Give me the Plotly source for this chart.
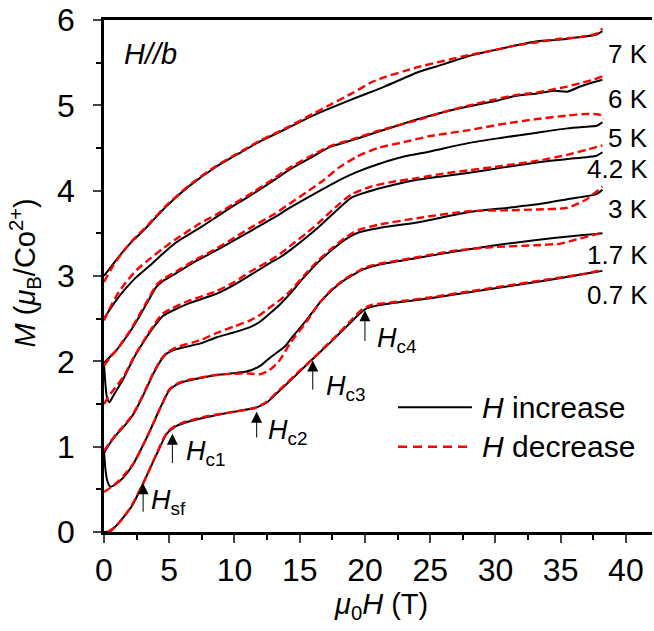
import plotly.graph_objects as go

# ---------------- data ----------------
temps = ["0.7 K", "1.7 K", "3 K", "4.2 K", "5 K", "6 K", "7 K"]

h07_up = [0, 0.5, 1.2, 2.2, 3.0, 4.0, 4.8, 5.4, 6.2, 8.0, 10.0, 11.7, 12.5, 13.2, 13.9, 15.0, 15.8, 17.0, 18.0, 19.0, 19.6, 20.0, 20.8, 22.0, 25.0, 28.0, 31.0, 34.0, 37.0, 38.2]
m07_up = [0, 0.01, 0.12, 0.32, 0.57, 0.90, 1.15, 1.23, 1.28, 1.35, 1.41, 1.46, 1.52, 1.62, 1.72, 1.88, 2.00, 2.17, 2.32, 2.47, 2.56, 2.61, 2.65, 2.68, 2.74, 2.81, 2.88, 2.95, 3.03, 3.06]
h07_dn = [0.3, 1.0, 2.0, 3.0, 4.0, 4.8, 5.4, 6.2, 8.0, 10.0, 11.7, 12.5, 13.2, 13.9, 15.0, 16.0, 17.0, 18.0, 19.0, 19.8, 20.5, 22.0, 25.0, 28.0, 31.0, 34.0, 37.0, 38.1]
m07_dn = [0.0, 0.08, 0.28, 0.57, 0.91, 1.16, 1.24, 1.29, 1.36, 1.41, 1.46, 1.53, 1.63, 1.73, 1.89, 2.03, 2.18, 2.33, 2.49, 2.61, 2.66, 2.69, 2.75, 2.82, 2.89, 2.96, 3.03, 3.07]

h17_up = [0, 0.1, 0.25, 0.5, 0.9, 1.5, 2.25, 3.0, 3.5, 4.3, 5.0, 5.5, 6.1, 8.6, 10.9, 12.0, 12.7, 13.9, 14.3, 15.5, 16.6, 17.5, 18.5, 19.4, 19.9, 21.0, 24.0, 27.0, 30.0, 33.0, 36.0, 37.5, 38.2]
m17_up = [0.95, 0.75, 0.60, 0.53, 0.56, 0.64, 0.80, 1.02, 1.18, 1.45, 1.66, 1.72, 1.76, 1.84, 1.88, 1.95, 2.04, 2.18, 2.26, 2.48, 2.70, 2.84, 2.96, 3.04, 3.08, 3.13, 3.21, 3.29, 3.36, 3.42, 3.47, 3.49, 3.50]
h17_dn = [0, 0.5, 1.0, 1.5, 2.25, 3.0, 3.5, 4.3, 5.0, 5.5, 6.1, 8.6, 10.9, 12.0, 12.7, 13.4, 13.9, 14.3, 15.5, 16.6, 17.5, 18.5, 19.4, 20.0, 21.0, 24.0, 27.0, 30.0, 33.0, 35.0, 36.5, 37.5, 38.2]
m17_dn = [0.47, 0.52, 0.58, 0.66, 0.80, 1.02, 1.18, 1.45, 1.67, 1.73, 1.77, 1.84, 1.86, 1.85, 1.90, 2.00, 2.12, 2.22, 2.46, 2.70, 2.85, 2.97, 3.05, 3.10, 3.14, 3.22, 3.30, 3.34, 3.36, 3.38, 3.44, 3.48, 3.51]

h3_up = [0, 0.5, 1.0, 1.6, 2.25, 3.0, 3.8, 4.4, 4.8, 5.5, 7.4, 8.6, 10.0, 11.2, 12.0, 12.7, 13.5, 14.25, 15.3, 16.4, 17.5, 18.5, 19.5, 21.0, 24.1, 28.0, 31.0, 33.2, 35.5, 37.75, 38.2]
m3_up = [0.93, 1.05, 1.15, 1.25, 1.38, 1.60, 1.86, 2.02, 2.09, 2.14, 2.21, 2.28, 2.34, 2.40, 2.47, 2.56, 2.67, 2.79, 2.98, 3.16, 3.31, 3.43, 3.51, 3.56, 3.63, 3.75, 3.80, 3.84, 3.90, 3.96, 4.01]
h3_dn = [0, 0.5, 1.0, 1.6, 2.25, 3.0, 3.8, 4.4, 4.8, 5.5, 7.4, 8.6, 10.0, 11.2, 12.0, 12.7, 13.5, 14.25, 15.3, 16.4, 17.5, 18.5, 19.5, 21.0, 24.1, 28.0, 31.0, 33.2, 35.5, 37.0, 38.2]
m3_dn = [0.95, 1.06, 1.16, 1.26, 1.39, 1.61, 1.87, 2.03, 2.10, 2.16, 2.25, 2.33, 2.41, 2.48, 2.55, 2.63, 2.72, 2.82, 3.00, 3.18, 3.33, 3.45, 3.54, 3.60, 3.68, 3.76, 3.77, 3.78, 3.80, 3.90, 4.05]

h42_up = [0, 0.1, 0.2, 0.4, 0.8, 1.5, 2.25, 3.0, 3.8, 4.5, 5.2, 6.5, 8.6, 10.0, 11.2, 12.7, 13.5, 14.25, 15.5, 16.5, 17.7, 19.0, 20.5, 22.0, 24.1, 26.0, 28.0, 30.5, 33.2, 35.5, 37.75, 38.2]
m42_up = [1.97, 1.75, 1.60, 1.52, 1.62, 1.80, 2.03, 2.22, 2.40, 2.53, 2.59, 2.68, 2.79, 2.90, 3.01, 3.15, 3.22, 3.30, 3.45, 3.58, 3.75, 3.92, 4.00, 4.06, 4.13, 4.17, 4.21, 4.27, 4.33, 4.37, 4.41, 4.45]
h42_dn = [0, 0.5, 1.0, 1.5, 2.25, 3.0, 3.8, 4.5, 5.2, 6.5, 8.6, 10.0, 11.2, 12.7, 13.5, 14.25, 15.5, 16.5, 17.7, 19.0, 20.5, 22.0, 24.1, 26.0, 28.0, 30.5, 33.2, 35.5, 37.0, 38.2]
m42_dn = [1.50, 1.62, 1.72, 1.82, 2.04, 2.23, 2.42, 2.56, 2.62, 2.71, 2.82, 2.93, 3.05, 3.18, 3.26, 3.35, 3.50, 3.63, 3.80, 3.96, 4.05, 4.10, 4.15, 4.20, 4.24, 4.29, 4.35, 4.42, 4.48, 4.53]

h5_up = [0, 0.5, 1.0, 2.0, 2.8, 3.5, 4.0, 4.5, 5.5, 7.0, 8.6, 10.0, 11.5, 13.0, 14.25, 15.5, 16.8, 18.0, 19.4, 21.0, 23.0, 25.0, 28.0, 30.5, 33.2, 35.5, 37.0, 37.75, 38.2]
m5_up = [1.98, 2.06, 2.14, 2.35, 2.55, 2.74, 2.87, 2.94, 3.03, 3.17, 3.30, 3.42, 3.55, 3.68, 3.80, 3.91, 4.02, 4.12, 4.22, 4.31, 4.40, 4.46, 4.56, 4.62, 4.68, 4.73, 4.75, 4.76, 4.80]
h5_dn = [0, 0.5, 1.0, 2.0, 2.8, 3.5, 4.0, 4.5, 5.5, 7.0, 8.6, 10.0, 11.5, 13.0, 14.25, 15.5, 16.8, 18.0, 19.4, 21.0, 23.0, 25.0, 28.0, 30.5, 33.2, 35.5, 37.0, 38.0, 38.3]
m5_dn = [1.95, 2.05, 2.14, 2.36, 2.57, 2.76, 2.89, 2.96, 3.05, 3.19, 3.32, 3.45, 3.59, 3.72, 3.85, 3.98, 4.12, 4.27, 4.40, 4.50, 4.57, 4.64, 4.71, 4.78, 4.84, 4.88, 4.90, 4.89, 4.84]

h6_up = [0, 0.5, 1.0, 1.7, 2.5, 3.5, 4.5, 5.5, 7.4, 8.6, 10.0, 11.5, 13.0, 14.25, 16.0, 17.3, 19.0, 21.0, 24.1, 26.0, 28.0, 30.0, 31.5, 33.2, 34.5, 35.5, 36.5, 37.5, 38.2]
m6_up = [2.50, 2.62, 2.73, 2.86, 2.99, 3.12, 3.26, 3.39, 3.57, 3.69, 3.83, 3.97, 4.12, 4.25, 4.40, 4.51, 4.59, 4.69, 4.84, 4.92, 4.99, 5.05, 5.11, 5.14, 5.17, 5.16, 5.22, 5.27, 5.30]
h6_dn = [0, 0.5, 1.0, 1.7, 2.5, 3.5, 4.5, 5.5, 7.4, 8.6, 10.0, 11.5, 13.0, 14.25, 16.0, 17.3, 19.0, 21.0, 24.1, 26.0, 28.0, 30.0, 31.5, 33.2, 34.5, 35.5, 36.5, 37.5, 38.2]
m6_dn = [2.48, 2.64, 2.78, 2.93, 3.07, 3.20, 3.32, 3.43, 3.62, 3.72, 3.85, 3.99, 4.14, 4.27, 4.42, 4.52, 4.60, 4.70, 4.83, 4.92, 5.00, 5.07, 5.12, 5.15, 5.19, 5.22, 5.26, 5.30, 5.34]

h7_up = [0, 0.5, 1.0, 1.7, 2.25, 3.0, 3.5, 4.8, 6.5, 8.6, 10.5, 12.0, 13.9, 16.0, 19.0, 21.5, 24.1, 26.0, 28.0, 30.0, 31.5, 33.2, 35.0, 36.5, 37.75, 38.2]
m7_up = [3.00, 3.10, 3.20, 3.33, 3.42, 3.53, 3.61, 3.82, 4.05, 4.28, 4.45, 4.58, 4.72, 4.88, 5.07, 5.22, 5.39, 5.48, 5.58, 5.65, 5.70, 5.75, 5.77, 5.80, 5.83, 5.87]
h7_dn = [0, 0.5, 1.0, 1.7, 2.25, 3.0, 3.5, 4.8, 6.5, 8.6, 10.5, 12.0, 13.9, 16.0, 17.5, 19.0, 20.5, 21.5, 23.0, 24.1, 26.0, 28.0, 30.0, 31.5, 33.2, 35.0, 36.5, 37.75, 38.2]
m7_dn = [2.93, 3.07, 3.19, 3.33, 3.43, 3.54, 3.62, 3.83, 4.06, 4.29, 4.46, 4.59, 4.73, 4.90, 5.02, 5.14, 5.27, 5.33, 5.40, 5.45, 5.52, 5.59, 5.65, 5.70, 5.74, 5.78, 5.80, 5.84, 5.90]

up_H = [h07_up, h17_up, h3_up, h42_up, h5_up, h6_up, h7_up]
up_M = [m07_up, m17_up, m3_up, m42_up, m5_up, m6_up, m7_up]
dn_H = [h07_dn, h17_dn, h3_dn, h42_dn, h5_dn, h6_dn, h7_dn]
dn_M = [m07_dn, m17_dn, m3_dn, m42_dn, m5_dn, m6_dn, m7_dn]

# temperature label positions (field, moment)
label_x = 41.85
label_y = [2.78, 3.25, 3.79, 4.25, 4.62, 5.08, 5.60]

# critical-field arrows
crit_names = ["sf", "c1", "c2", "c3", "c4"]
crit_H = [3.0, 5.24, 11.7, 16.0, 20.0]
crit_tip = [0.57, 1.15, 1.41, 2.01, 2.60]
crit_tail = [0.22, 0.79, 1.09, 1.65, 2.22]
crit_lab_x = [3.45, 6.15, 12.45, 16.85, 20.75]
crit_lab_y = [0.57, 1.15, 1.40, 1.91, 2.47]

x_ticks = [0, 5, 10, 15, 20, 25, 30, 35, 40]
y_ticks = [0, 1, 2, 3, 4, 5, 6]

FONT = "Liberation Sans, Arial, sans-serif"

fig = go.Figure()
for i, t in enumerate(temps):
    fig.add_trace(go.Scatter(x=up_H[i], y=up_M[i], mode="lines", name=t + " H increase",
                             line=dict(color="black", width=2, shape="spline", smoothing=0.6),
                             showlegend=False))
for i, t in enumerate(temps):
    fig.add_trace(go.Scatter(x=dn_H[i], y=dn_M[i], mode="lines", name=t + " H decrease",
                             line=dict(color="#ff0000", width=2.4, dash="8px,4px", shape="spline", smoothing=0.6),
                             showlegend=False))

ann = []
for t, yy in zip(temps, label_y):
    ann.append(dict(x=label_x, y=yy, xref="x", yref="y", text=t, showarrow=False,
                    xanchor="right", yanchor="middle", font=dict(size=26, family=FONT, color="black")))

for n, hx, tip, tail, lx, ly in zip(crit_names, crit_H, crit_tip, crit_tail, crit_lab_x, crit_lab_y):
    ann.append(dict(x=hx, y=tip, ax=hx, ay=tail, xref="x", yref="y", axref="x", ayref="y",
                    text="", showarrow=True, arrowhead=2, arrowsize=2.2, arrowwidth=1,
                    arrowcolor="black", standoff=0, startstandoff=0))
    ann.append(dict(x=lx, y=ly, xref="x", yref="y", showarrow=False, xanchor="left", yanchor="top",
                    text="<i>H</i><sub>" + n + "</sub>", font=dict(size=27, family=FONT, color="black")))

ann.append(dict(x=1.35, y=5.6, xref="x", yref="y", text="<i>H//b</i>", showarrow=False,
                xanchor="left", yanchor="middle", font=dict(size=29, family=FONT, color="black")))

# axis titles
ann.append(dict(x=-0.145, y=0.506, xref="paper", yref="paper", textangle=-90, showarrow=False,
                text="<i>M</i> (<i>μ</i><sub>B</sub>/Co<sup>2+</sup>)", xanchor="center", yanchor="middle",
                font=dict(size=29, family=FONT, color="black")))
ann.append(dict(x=0.5055, y=-0.1445, xref="paper", yref="paper", showarrow=False,
                text="<i>μ</i><sub>0</sub><i>H</i> (T)", xanchor="center", yanchor="middle",
                font=dict(size=29, family=FONT, color="black")))

# legend (drawn manually)
leg_x0, leg_x1, leg_tx = 0.5365, 0.6715, 0.686
leg_y = [0.2436, 0.1666]
shapes = [
    dict(type="line", xref="paper", yref="paper", x0=leg_x0, x1=leg_x1, y0=leg_y[0], y1=leg_y[0],
         line=dict(color="black", width=2)),
    dict(type="line", xref="paper", yref="paper", x0=leg_x0, x1=leg_x1, y0=leg_y[1], y1=leg_y[1],
         line=dict(color="#ff0000", width=2.4, dash="9px,6px")),
]
for txt, yy in zip(["<i>H</i> increase", "<i>H</i> decrease"], leg_y):
    ann.append(dict(x=leg_tx, y=yy, xref="paper", yref="paper", text=txt, showarrow=False,
                    xanchor="left", yanchor="middle", font=dict(size=30, family=FONT, color="black")))

fig.update_layout(
    width=654, height=631,
    margin=dict(l=104, r=2, t=20, b=99),
    plot_bgcolor="white", paper_bgcolor="white",
    showlegend=False,
    font=dict(family=FONT, color="black"),
    annotations=ann, shapes=shapes,
    xaxis=dict(range=[0, 42], tickvals=x_ticks, ticks="outside", ticklen=8, tickwidth=2,
               showline=True, linewidth=2.5, linecolor="black", mirror=True,
               showgrid=False, zeroline=False, tickfont=dict(size=32, family=FONT, color="black"),
               minor=dict(tickvals=[2.5, 7.5, 12.5, 17.5, 22.5, 27.5, 32.5, 37.5], ticks="outside",
                          ticklen=5, tickwidth=2, tickcolor="black")),
    yaxis=dict(range=[0, 6], tickvals=y_ticks, ticks="outside", ticklen=8, tickwidth=2,
               showline=True, linewidth=2.5, linecolor="black", mirror=False,
               showgrid=False, zeroline=False, tickfont=dict(size=32, family=FONT, color="black"),
               ticklabelstandoff=12,
               minor=dict(tickvals=[0.5, 1.5, 2.5, 3.5, 4.5, 5.5], ticks="outside",
                          ticklen=5, tickwidth=2, tickcolor="black")),
)

fig.write_html("out.html")
